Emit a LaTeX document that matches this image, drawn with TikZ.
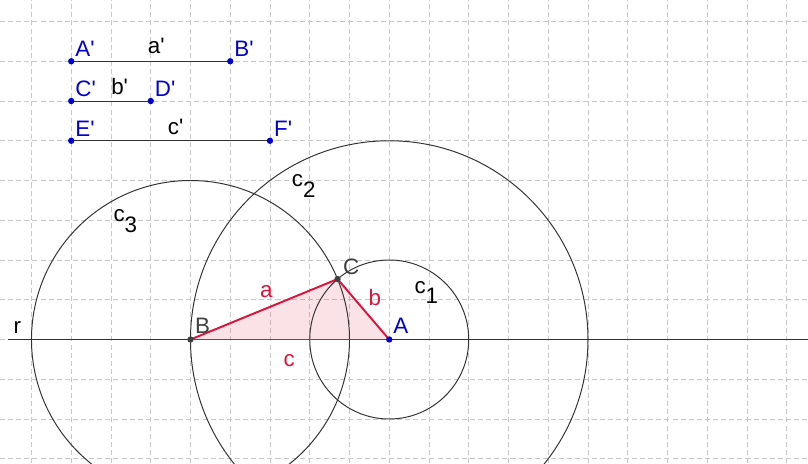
\documentclass[tikz,border=0pt]{standalone}
\usepackage{fontspec}
\newfontfamily\geofont{Liberation Sans}
\usetikzlibrary{positioning}
\definecolor{ptblue}{RGB}{0,0,210}
\definecolor{trired}{RGB}{220,20,60}
\definecolor{ptgray}{RGB}{64,64,64}
\definecolor{gridgray}{RGB}{200,200,200}
\definecolor{linegray}{RGB}{50,50,50}
\newcommand{\subidx}[2]{#1\raisebox{-7.5pt}{#2}}

\begin{document}
\begin{tikzpicture}[x=1cm,y=1cm,
  gridline/.style={draw=gridgray,line width=0.5pt,dash pattern=on 3.6pt off 2.2pt},
  geoline/.style={draw=linegray,line width=0.7pt},
  triside/.style={draw=trired,line width=1.4pt,line cap=round,line join=round},
  freept/.style={circle,fill=ptblue,inner sep=0pt,minimum size=0.16cm},
  boundpt/.style={circle,fill=ptgray,inner sep=0pt,minimum size=0.16cm},
  lab/.style={anchor=base west,inner sep=0pt,font=\geofont\fontsize{16}{19}\selectfont}]
\useasboundingbox (-4.792,-3.107) rectangle (15.535,8.541);
\clip (-4.792,-3.107) rectangle (15.535,8.541);
\draw[gridline] (-4.792,-3.107) grid (15.535,8.541);
% given lengths
\coordinate (A1) at (-3,7);
\coordinate (B1) at (1,7);
\coordinate (C1) at (-3,6);
\coordinate (D1) at (-1,6);
\coordinate (E1) at (-3,5);
\coordinate (F1) at (2,5);
% triangle
\coordinate (B) at (0,0);
\coordinate (A) at (5,0);
\coordinate (C) at (3.7,1.5199);
\coordinate (rL) at (-4.58,0);
\coordinate (rR) at (15.6,0);
\fill[trired,opacity=0.12] (A)--(B)--(C)--cycle;
\draw[geoline] (A) circle[radius=2];
\draw[geoline] (A) circle[radius=5];
\draw[geoline] (B) circle[radius=4];
\draw[geoline] (rL)--(rR);
\draw[geoline] (A1)--(B1);
\draw[geoline] (C1)--(D1);
\draw[geoline] (E1)--(F1);
\draw[triside] (B)--(C);
\draw[triside] (C)--(A);
\draw[triside] (A)--(B);
% points
\foreach \p in {A1,B1,C1,D1,E1,F1,A}
  \node[freept] (pt\p) at (\p) {};
\node[boundpt] (ptB) at (B) {};
\node[boundpt] (ptC) at (C) {};
% point labels
\node[lab,text=ptblue] (lA1) at ([shift={(0.1,0.11)}]A1) {A'};
\node[lab,text=ptblue] (lB1) at ([shift={(0.1,0.11)}]B1) {B'};
\node[lab,text=ptblue] (lC1) at ([shift={(0.1,0.11)}]C1) {C'};
\node[lab,text=ptblue] (lD1) at ([shift={(0.1,0.11)}]D1) {D'};
\node[lab,text=ptblue] (lE1) at ([shift={(0.1,0.11)}]E1) {E'};
\node[lab,text=ptblue] (lF1) at ([shift={(0.1,0.11)}]F1) {F'};
\node[lab,text=ptblue] (lA) at ([shift={(0.1,0.14)}]A) {A};
\node[lab,text=ptgray] (lB) at ([shift={(0.11,0.14)}]B) {B};
\node[lab,text=ptgray] (lC) at ([shift={(0.13,0.12)}]C) {C};
% object labels
\node[lab] (la1) at (-1.077,7.2) {a'};
\node[lab] (lb1) at (-2.0,6.168) {b'};
\node[lab] (lc1) at (-0.574,5.162) {c'};
\node[lab] (lr) at (-4.458,0.156) {r};
\node[lab] (lcc1) at (5.63,1.162) {\subidx{c}{1}};
\node[lab] (lcc2) at (2.546,3.844) {\subidx{c}{2}};
\node[lab] (lcc3) at (-1.942,2.964) {\subidx{c}{3}};
\node[lab,text=trired] (la) at (1.748,1.06) {a};
\node[lab,text=trired] (lb) at (4.473,0.868) {b};
\node[lab,text=trired] (lc) at (2.335,-0.667) {c};
\end{tikzpicture}
\end{document}
